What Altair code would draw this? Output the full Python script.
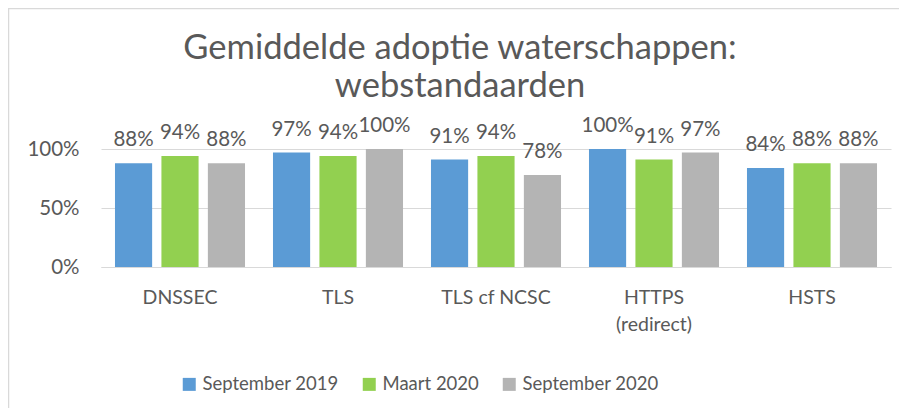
import altair as alt
import pandas as pd

categories = ["DNSSEC", "TLS", "TLS cf NCSC", "HTTPS (redirect)", "HSTS"]
series = ["September 2019", "Maart 2020", "September 2020"]
sep2019 = [0.88, 0.97, 0.91, 1.00, 0.84]
mrt2020 = [0.94, 0.94, 0.94, 0.91, 0.88]
sep2020 = [0.88, 1.00, 0.78, 0.97, 0.88]
colors = ["#5B9BD5", "#92D050", "#B4B4B4"]

rows = []
for s, vals in zip(series, [sep2019, mrt2020, sep2020]):
    for c, v in zip(categories, vals):
        rows.append({"cat": c, "serie": s, "value": v})
df = pd.DataFrame(rows)

W, H = 790, 118
FONT = "Lato"
TXT = "#595959"

x = alt.X("cat:N", sort=categories, title=None,
          scale=alt.Scale(paddingInner=0.177, paddingOuter=0.0885),
          axis=alt.Axis(labelAngle=0, ticks=False, domain=True, domainColor="#D9D9D9",
                        labelPadding=21, labelFontSize=19.5, labelColor=TXT, labelFont=FONT,
                        labelLineHeight=27,
                        labelExpr="datum.label == 'HTTPS (redirect)' ? ['HTTPS', '(redirect)'] : datum.label"))
xo = alt.XOffset("serie:N", sort=series, scale=alt.Scale(paddingInner=0.2, paddingOuter=0))
y = alt.Y("value:Q", title=None,
          scale=alt.Scale(domain=[0, 1], nice=False),
          axis=alt.Axis(values=[0, 0.5, 1], format=".0%", ticks=False, domain=False,
                        gridColor="#D9D9D9", gridWidth=1, labelPadding=22,
                        labelFontSize=20.5, labelColor=TXT, labelFont=FONT))
color = alt.Color("serie:N", sort=series, title=None,
                  scale=alt.Scale(domain=series, range=colors),
                  legend=alt.Legend(orient="none", legendX=79, legendY=226, direction="horizontal",
                                    symbolType="square", symbolSize=169, symbolStrokeWidth=0,
                                    labelFontSize=18.5, labelColor=TXT, labelFont=FONT,
                                    labelOffset=4, columnPadding=21, padding=0))

base = alt.Chart(df)
bars = base.mark_bar().encode(x=x, xOffset=xo, y=y, color=color)
labels = base.mark_text(baseline="alphabetic", dy=-17, fontSize=20.5, font=FONT, color=TXT).encode(
    x=x, xOffset=xo, y=y, text=alt.Text("value:Q", format=".0%"))

frame = alt.Chart(alt.Data(values=[{}])).mark_rect(fill=None, stroke="#D9D9D9", strokeWidth=1.5).encode(
    x=alt.value(-92.5), x2=alt.value(W + 40), y=alt.value(-140.5), y2=alt.value(H + 160))

chart = alt.layer(frame, bars, labels).properties(
    width=W, height=H,
    autosize=alt.AutoSizeParams(type="none"),
    padding={"left": 93, "top": 141, "right": 8, "bottom": 141},
    title=alt.TitleParams(["Gemiddelde adoptie waterschappen:", "webstandaarden"],
                          font=FONT, fontSize=34.5, fontWeight="normal", color=TXT,
                          lineHeight=38, anchor="middle", dx=-36, offset=-97),
).configure_view(stroke=None)

chart.save("out.html", embed_options={"renderer": "svg", "actions": False})
